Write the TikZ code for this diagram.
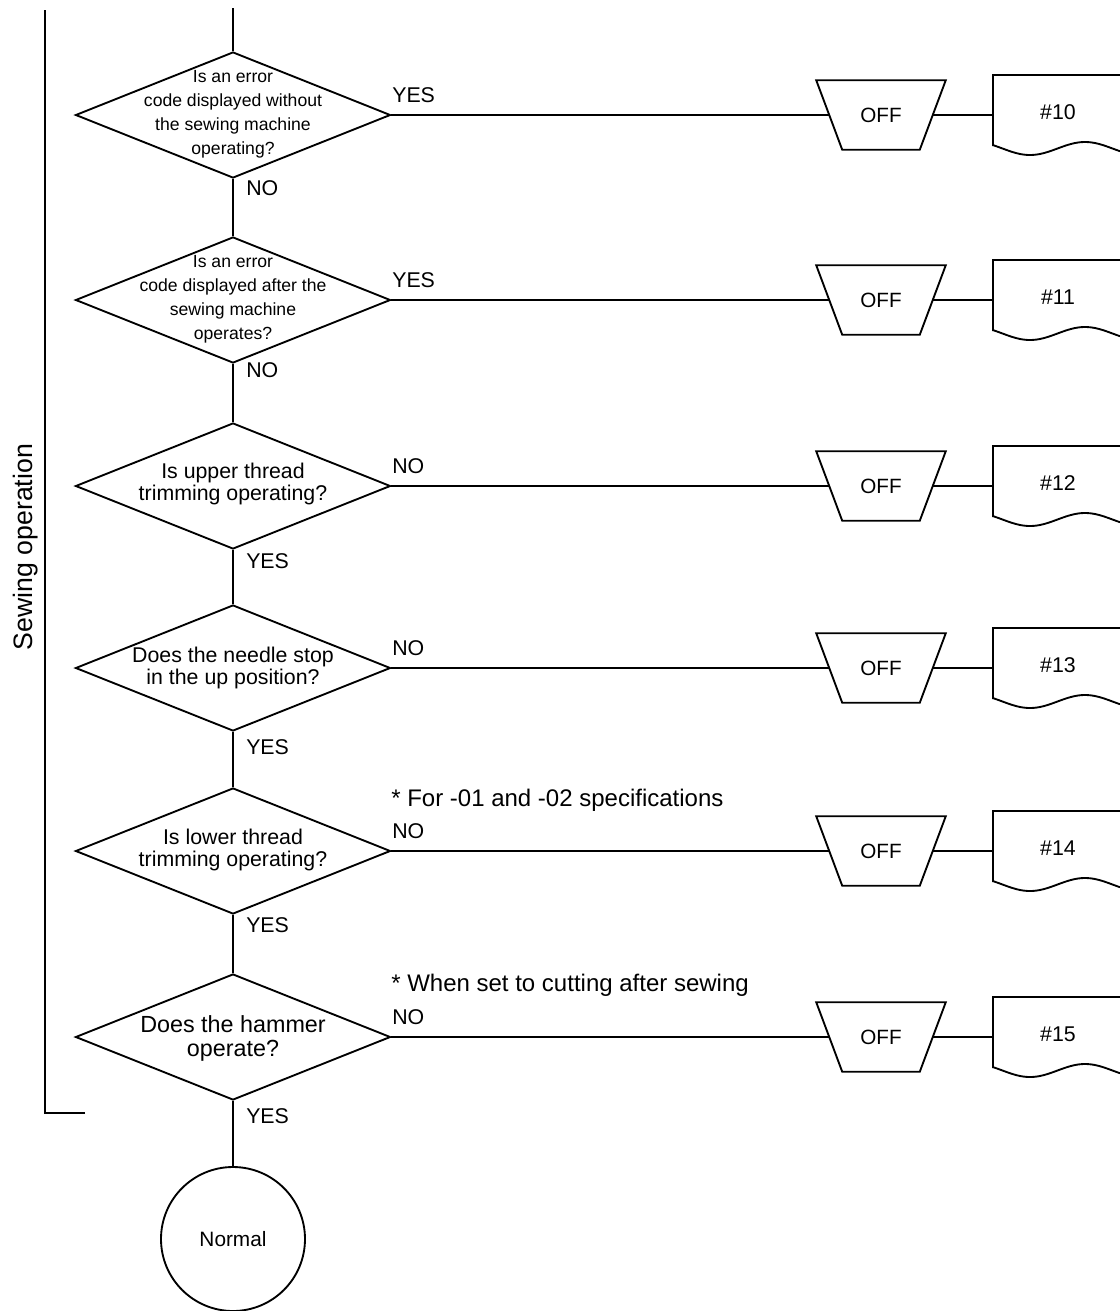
\documentclass[tikz,border=0pt]{standalone}
\usepackage{fontspec}
\setmainfont{Liberation Sans}
\usetikzlibrary{shapes.geometric}
\tikzset{
  conn/.style={line width=1.9pt},
  shp/.style={draw, line width=1.4pt},
  dia/.style={shp, shape=diamond, minimum width=236.25pt, minimum height=94.5pt, inner sep=0pt},
  smalltxt/.style={font=\fontsize{13.2}{18}\selectfont, align=center, inner sep=0pt},
  midtxt/.style={font=\fontsize{16}{16.5}\selectfont, align=center, inner sep=0pt},
  bigtxt/.style={font=\fontsize{17.5}{18}\selectfont, align=center, inner sep=0pt},
  lbl/.style={font=\fontsize{16}{19}\selectfont, anchor=west, inner sep=0pt},
  note/.style={font=\fontsize{18}{21}\selectfont, anchor=base west, inner sep=0pt},
  offbox/.style={minimum width=96.75pt, minimum height=51.75pt, inner sep=0pt,
    font=\fontsize{15.5}{18}\selectfont},
  doctxt/.style={font=\fontsize{16}{19}\selectfont, inner sep=0pt},
  endc/.style={shp, circle, minimum size=108pt, inner sep=0pt, font=\fontsize{15.6}{18}\selectfont},
  sect/.style={font=\fontsize{20}{24}\selectfont, rotate=90, inner sep=0pt},
}
\begin{document}
\begin{tikzpicture}[x=0.75pt,y=-0.75pt]
\useasboundingbox (0,0) rectangle (1120,1311);
% left bracket
\node[sect] (sec) at (26,547) {Sewing operation};
\draw[line width=1.6pt] (85,1113) -- (45,1113) -- (45,10);
% decisions
\coordinate (top) at (233,8);
\node[dia] (d1) at (233,115) {};
\node[dia] (d2) at (233,300) {};
\node[dia] (d3) at (233,486) {};
\node[dia] (d4) at (233,668) {};
\node[dia] (d5) at (233,851) {};
\node[dia] (d6) at (233,1037) {};
\node[endc] (end) at (233,1239) {Normal};
% decision texts
\node[smalltxt] (t1) at (233,114) {Is an error\\code displayed without\\the sewing machine\\operating?};
\node[smalltxt] (t2) at (233,299) {Is an error\\code displayed after the\\sewing machine\\operates?};
\node[midtxt] (t3) at (233,484) {Is upper thread\\trimming operating?};
\node[midtxt] (t4) at (233,668) {Does the needle stop\\in the up position?};
\node[midtxt] (t5) at (233,850) {Is lower thread\\trimming operating?};
\node[bigtxt] (t6) at (233,1038) {Does the hammer\\operate?};
% vertical flow
\draw[conn] (top) -- (d1);
\draw[conn] (d1) -- (d2);
\draw[conn] (d2) -- (d3);
\draw[conn] (d3) -- (d4);
\draw[conn] (d4) -- (d5);
\draw[conn] (d5) -- (d6);
\draw[conn] (d6) -- (end);
% labels
\node[lbl] (y1) at (392,95) {YES};
\node[lbl] (n1) at (246,188) {NO};
\node[lbl] (y2) at (392,280) {YES};
\node[lbl] (n2) at (246,370) {NO};
\node[lbl] (n3) at (392,466) {NO};
\node[lbl] (y3) at (246,561) {YES};
\node[lbl] (n4) at (392,648) {NO};
\node[lbl] (y4) at (246,747) {YES};
\node[note] (a5) at (391,806.5) {* For -01 and -02 specifications};
\node[lbl] (n5) at (392,831) {NO};
\node[lbl] (y5) at (246,925) {YES};
\node[note] (a6) at (391,991.5) {* When set to cutting after sewing};
\node[lbl] (n6) at (392,1017) {NO};
\node[lbl] (y6) at (246,1116) {YES};
% right side: OFF and document references
\foreach \i/\yy/\n in {1/115/10,2/300/11,3/486/12,4/668/13,5/851/14,6/1037/15}{
  \node[offbox] (off\n) at (881,\yy) {OFF};
  \draw[shp] (off\n.north west) -- (off\n.north east)
    -- ([xshift=-19.5pt]off\n.south east) -- ([xshift=19.5pt]off\n.south west) -- cycle;
  \coordinate (offl\n) at ([xshift=9.75pt]off\n.west);
  \coordinate (offr\n) at ([xshift=-9.75pt]off\n.east);
  \coordinate (dl\n) at (993,\yy);
  \node[doctxt] (doc\n) at (1058,\yy-3) {\#\n};
  \draw[shp] (1120,\yy-40) -- (993,\yy-40) -- (993,\yy+31) --
    plot[domain=993:1120,samples=60] (\x,{\yy+33.5+6.5*sin((\x-1002.5)/110*360)});
  \draw[conn] (d\i) -- (offl\n);
  \draw[conn] (offr\n) -- (dl\n);
}
\end{tikzpicture}
\end{document}
